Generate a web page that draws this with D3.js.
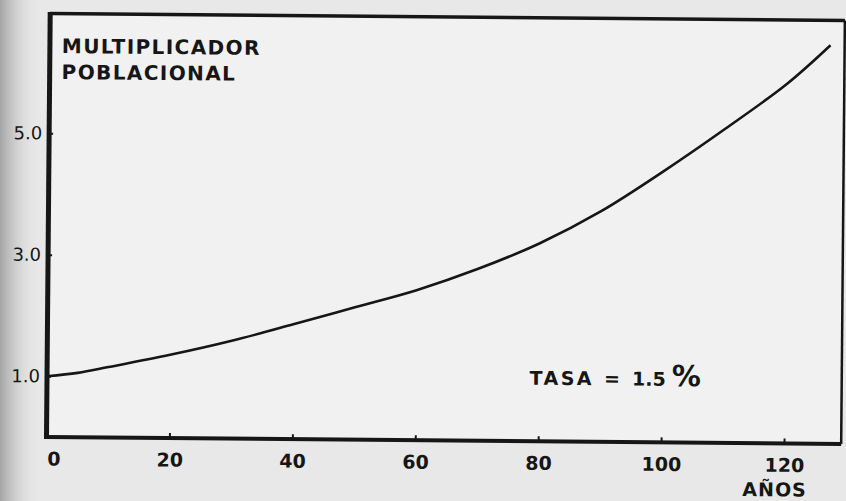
<!DOCTYPE html>
<html>
<head>
<meta charset="utf-8">
<script src="https://cdn.jsdelivr.net/npm/d3@7"></script>
<style>
  body { margin: 0; background: #e6e6e6; }
  svg { display: block; }
</style>
</head>
<body>
<svg width="846" height="501"></svg>
<script>
// values
const years = [0, 5, 10, 20, 30, 40, 50, 60, 70, 80, 90, 100, 110, 120, 127];
const multiplier = [1.0, 1.06, 1.16, 1.37, 1.61, 1.89, 2.18, 2.47, 2.83, 3.26, 3.80, 4.46, 5.17, 5.92, 6.56];
const xTicks = [0, 20, 40, 60, 80, 100, 120];
const yTicks = [1, 3, 5];
const yTickLabels = ['1.0', '3.0', '5.0'];
const titleLines = ['MULTIPLICADOR', 'POBLACIONAL'];

const margin = {top: 13.5, left: 46.5};
const width = 794.7;
const height = 423.5;
const font = '"DejaVu Sans", sans-serif';
const ink = '#161616';

const svg = d3.select('svg');

// paper + shadow of the page fold on the left
const defs = svg.append('defs');
const grad = defs.append('linearGradient').attr('id', 'fold')
  .attr('x1', 0).attr('x2', 1).attr('y1', 0).attr('y2', 0);
grad.append('stop').attr('offset', 0).attr('stop-color', '#a4a4a4');
grad.append('stop').attr('offset', 1).attr('stop-color', '#e6e6e6').attr('stop-opacity', 0);
svg.append('rect').attr('width', 846).attr('height', 501).attr('fill', '#e8e8e8');
svg.append('rect').attr('width', 40).attr('height', 501).attr('fill', 'url(#fold)');

// the scan is turned a little clockwise
const g = svg.append('g')
  .attr('transform', `rotate(0.5 ${margin.left} ${margin.top + height}) translate(${margin.left},${margin.top})`);

const x = d3.scaleLinear().domain([0, 129.3]).range([0, width]);
const y = d3.scaleLinear().domain([0, 6.97]).range([height, 0]);

g.append('rect')
  .attr('width', width).attr('height', height)
  .attr('fill', '#f1f1f1');

// curve
const line = d3.line()
  .x((d, i) => x(years[i]))
  .y(d => y(d))
  .curve(d3.curveCatmullRom.alpha(0.5));

g.append('path')
  .datum(multiplier)
  .attr('d', line)
  .attr('fill', 'none')
  .attr('stroke', ink)
  .attr('stroke-width', 2.6);

// frame
g.append('line').attr('x1', 0).attr('x2', width).attr('y1', 0).attr('y2', 0)
  .attr('stroke', ink).attr('stroke-width', 3.5);
g.append('line').attr('x1', width).attr('x2', width).attr('y1', 0).attr('y2', height)
  .attr('stroke', ink).attr('stroke-width', 2.5);
g.append('line').attr('x1', 0).attr('x2', width).attr('y1', height).attr('y2', height)
  .attr('stroke', ink).attr('stroke-width', 4);
g.append('line').attr('x1', 0).attr('x2', 0).attr('y1', -1.5).attr('y2', height + 2)
  .attr('stroke', ink).attr('stroke-width', 5);

// X axis
const xAxis = g.append('g')
  .attr('transform', `translate(0,${height})`)
  .call(d3.axisBottom(x).tickValues(xTicks).tickSize(-5).tickPadding(15));
xAxis.select('.domain').remove();
xAxis.selectAll('line').attr('stroke', ink).attr('stroke-width', 2);
xAxis.selectAll('text')
  .attr('fill', ink)
  .style('font-family', font)
  .style('font-size', '19px')
  .style('font-weight', 'bold')
  .attr('dx', d => d === 0 ? 7 : 0);

// Y axis
const yAxis = g.append('g')
  .call(d3.axisLeft(y).tickValues(yTicks).tickFormat((d, i) => yTickLabels[i]).tickSize(-4).tickPadding(7));
yAxis.select('.domain').remove();
yAxis.selectAll('line').attr('stroke', ink).attr('stroke-width', 2);
yAxis.selectAll('text')
  .attr('fill', ink)
  .style('font-family', font)
  .style('font-size', '18px');

// title inside the frame
g.append('g').selectAll('text')
  .data(titleLines)
  .enter()
  .append('text')
  .attr('x', 12)
  .attr('y', (d, i) => 39.5 + i * 26)
  .attr('fill', ink)
  .style('font-family', font)
  .style('font-size', '20px')
  .style('font-weight', 'bold')
  .style('letter-spacing', '1.4px')
  .text(d => d);

// rate note
const note = g.append('text')
  .attr('x', x(78.5))
  .attr('y', y(0.93))
  .attr('fill', ink)
  .style('font-family', font)
  .style('font-size', '19px')
  .style('font-weight', 'bold');
note.append('tspan').style('letter-spacing', '2.5px').text('TASA');
note.append('tspan').attr('dx', 10).text('=');
note.append('tspan').attr('dx', 12).text('1.5');
note.append('tspan').attr('dx', 6).style('font-size', '29px').text('%');

// axis name
g.append('text')
  .attr('x', x(120) - 9)
  .attr('y', height + 53)
  .attr('text-anchor', 'middle')
  .attr('fill', ink)
  .style('font-family', font)
  .style('font-size', '19px')
  .style('font-weight', 'bold')
  .style('letter-spacing', '1px')
  .text('AÑOS');
</script>
</body>
</html>
